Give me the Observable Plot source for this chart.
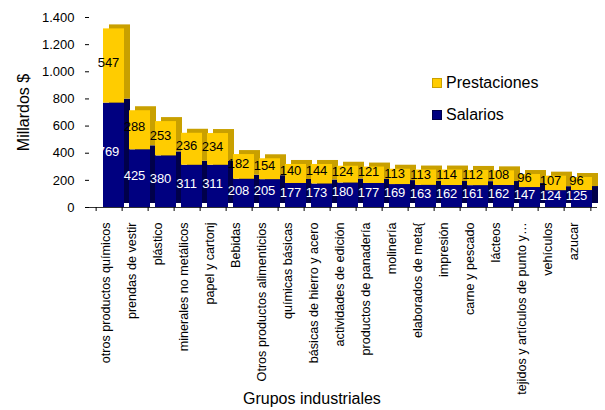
<!DOCTYPE html>
<html>
<head>
<meta charset="utf-8">
<script src="https://cdn.jsdelivr.net/npm/d3@7"></script>
<script src="https://cdn.jsdelivr.net/npm/@observablehq/plot@0.6"></script>
<style>
  body { margin: 0; background: #fff; font-family: "Liberation Sans", Arial, sans-serif; }
  #wrap { position: relative; width: 605px; height: 410px; }
  .legend { position: absolute; left: 433px; font-size: 16px; color: #000; }
  .legend span.sw { display: inline-block; width: 8px; height: 8px; margin-right: 5px; vertical-align: 1px; }
  #xtitle { position: absolute; left: 243px; top: 390px; font-size: 16px; }
</style>
</head>
<body>
<div id="wrap"></div>
<script>
const categories = [
  "otros productos químicos", "prendas de vestir", "plástico", "minerales no metálicos",
  "papel y cartonj", "Bebidas", "Otros productos alimenticios", "químicas básicas",
  "básicas de hierro y acero", "actividades de edición", "productos de panadería", "molinería",
  "elaborados de meta{", "impresión", "carne y pescado", "lácteos",
  "tejidos y artículos de punto y…", "vehículos", "azucar"
];
const salarios     = [769, 425, 380, 311, 311, 208, 205, 177, 173, 180, 177, 169, 163, 162, 161, 162, 147, 124, 125];
const prestaciones = [547, 288, 253, 236, 234, 182, 154, 140, 144, 124, 121, 113, 113, 114, 112, 108,  96, 107,  96];
const series = ["Salarios", "Prestaciones"];
const yTicks = [0, 200, 400, 600, 800, 1000, 1200, 1400];

const frontColor = {Salarios: "#000080", Prestaciones: "#FFCC00"};
const backColor  = {Salarios: "#00004a", Prestaciones: "#c9a000"};
const labelColor = {Salarios: "#ffffff", Prestaciones: "#000000"};

const data = [];
series.forEach(s => categories.forEach((c, i) => data.push({
  cat: c, serie: s, value: s === "Salarios" ? salarios[i] : prestaciones[i]
})));

const fmt = d3.formatLocale({decimal: ",", thousands: ".", grouping: [3], currency: ["", "$"]}).format(",");
const FONT = "Liberation Sans, Arial, sans-serif";

const chart = Plot.plot({
  width: 605,
  height: 410,
  marginLeft: 89,
  marginRight: 8,
  marginTop: 17,
  marginBottom: 203,
  style: {fontFamily: FONT, background: "#fff", color: "#000", fontSize: "16px"},
  x: {type: "band", domain: categories, padding: 0, label: null},
  y: {domain: [0, 1400], label: null},
  marks: [
    // 3D depth (back faces)
    Plot.barY(data, Plot.stackY({
      x: "cat", y: "value", z: "serie",
      fill: d => backColor[d.serie],
      insetLeft: 7, insetRight: -2, dx: 6, dy: -4
    })),
    // front faces
    Plot.barY(data, Plot.stackY({
      x: "cat", y: "value", z: "serie",
      fill: d => frontColor[d.serie],
      insetLeft: 7, insetRight: -2
    })),
    Plot.ruleY([0], {stroke: "#333", strokeWidth: 1}),
    Plot.text(data, Plot.stackY({
      x: "cat", y: "value", z: "serie",
      text: d => String(d.value),
      fill: d => labelColor[d.serie],
      fontSize: 13, dx: -1, dy: -3, fontFamily: FONT
    })),
    // y axis
    Plot.axisY({
      ticks: yTicks, tickFormat: fmt, tickSize: 4, tickPadding: 11,
      fontSize: 13, label: null
    }),
    Plot.axisY({
      ticks: [], label: "Millardos $", labelAnchor: "center", labelArrow: "none",
      labelOffset: 72, fontSize: 16
    }),
    // x tick marks at band boundaries
    Plot.axisX({tickSize: 4, tickFormat: () => "", dx: -13.37, label: null}),
    Plot.axisX([categories[categories.length - 1]], {tickSize: 4, tickFormat: () => "", dx: 13.37, label: null}),
    // x labels
    Plot.axisX({tickSize: 0, tickPadding: 15, tickRotate: -90, fontSize: 12.6, dx: -4, label: null})
  ]
});

const wrap = document.getElementById("wrap");
wrap.appendChild(chart);

const leg = [["Prestaciones", 74], ["Salarios", 106]];
leg.forEach(([name, top]) => {
  const d = document.createElement("div");
  d.className = "legend";
  d.style.top = top + "px";
  d.innerHTML = `<span class="sw" style="background:${frontColor[name]};outline:1px solid ${backColor[name]}"></span>${name}`;
  wrap.appendChild(d);
});
const xt = document.createElement("div");
xt.id = "xtitle";
xt.textContent = "Grupos industriales";
wrap.appendChild(xt);
</script>
</body>
</html>
